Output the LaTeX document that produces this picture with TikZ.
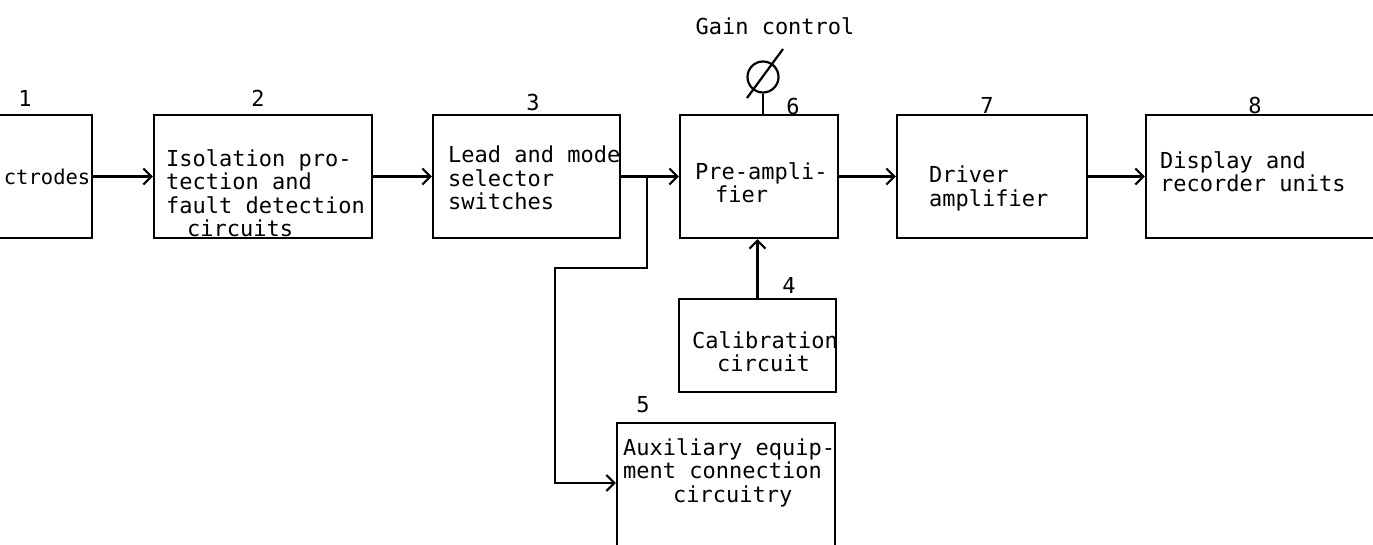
\documentclass[tikz,border=0pt]{standalone}
\usepackage{fontspec}
\setmainfont{DejaVu Sans Mono}
\usetikzlibrary{arrows.meta}
\begin{document}
\begin{tikzpicture}[x=1pt,y=-1pt,
  blk/.style={draw,line width=2.2pt,inner sep=0pt,minimum width=#1},
  row/.style={minimum height=123pt},
  txt/.style={inner sep=0pt,align=left,anchor=north west,font=\fontsize{22}{23.5}\selectfont},
  num/.style={inner sep=0pt,font=\fontsize{22}{23.5}\selectfont},
  wire/.style={line width=2.2pt},
  arr/.style={wire,-{Straight Barb[length=8pt,width=16pt]}}]
\clip (0,0) rectangle (1373,545);
% boxes
\node[blk=152pt,row] (b1) at (16,176.5) {};
\node[blk=218pt,row] (b2) at (263,176.5) {};
\node[blk=187pt,row] (b3) at (526.5,176.5) {};
\node[blk=158pt,row] (b6) at (759,176.5) {};
\node[blk=190pt,row] (b7) at (992,176.5) {};
\node[blk=284pt,row] (b8) at (1288,176.5) {};
\node[blk=157pt,minimum height=93pt] (b4) at (757.5,345.5) {};
\node[blk=218pt,minimum height=197pt] (b5) at (726,521.5) {};
% texts
\node[num,anchor=east,font=\fontsize{20.5}{23.5}\selectfont] (t1) at (90.5,177) {ctrodes};
\node[txt] (t2) at (166,149) {Isolation pro-\\tection and\\fault detection\\\hspace*{21pt}circuits};
\node[txt] (t3) at (448,146) {Lead and mode\\selector\\switches};
\node[txt] (t6) at (695,162) {Pre-ampli-\\\hspace*{20pt}fier};
\node[txt] (t7) at (929,166) {Driver\\amplifier};
\node[txt] (t8) at (1160,151) {Display and\\recorder units};
\node[txt] (t4) at (692,331) {Calibration\\\hspace*{25pt}circuit};
\node[txt] (t5) at (623,438) {Auxiliary equip-\\ment connection\\\hspace*{50pt}circuitry};
% numbers
\node[num] (l1) at (25,98) {1};
\node[num] (l2) at (258,98) {2};
\node[num] (l3) at (533,102) {3};
\node[num] (l6) at (793,106) {6};
\node[num] (l7) at (987,105) {7};
\node[num] (l8) at (1255,105) {8};
\node[num] (l4) at (789,285) {4};
\node[num] (l5) at (643,405) {5};
% gain control
\node[num] (gc) at (775,26) {Gain control};
\node[draw,line width=2.2pt,circle,minimum size=31pt,inner sep=0pt] (pot) at (763,77) {};
\draw[wire] (747,98) -- (783,49);
\draw[wire] (pot.south) -- (pot.south |- b6.north);
% connectors
\draw[arr] (b1.east) -- (b2.west);
\draw[arr] (b2.east) -- (b3.west);
\draw[arr] (b3.east) -- (b6.west);
\draw[arr] (b6.east) -- (b7.west);
\draw[arr] (b7.east) -- (b8.west |- b7.east);
\draw[arr] (b4.north) -- (b4.north |- b6.south);
\coordinate (j) at (647,176.5);
\coordinate (k1) at (647,268);
\coordinate (k2) at (555,268);
\coordinate (k3) at (555,483);
\draw[arr] (j) -- (k1) -- (k2) -- (k3) -- (b5.west |- k3);
\end{tikzpicture}
\end{document}
